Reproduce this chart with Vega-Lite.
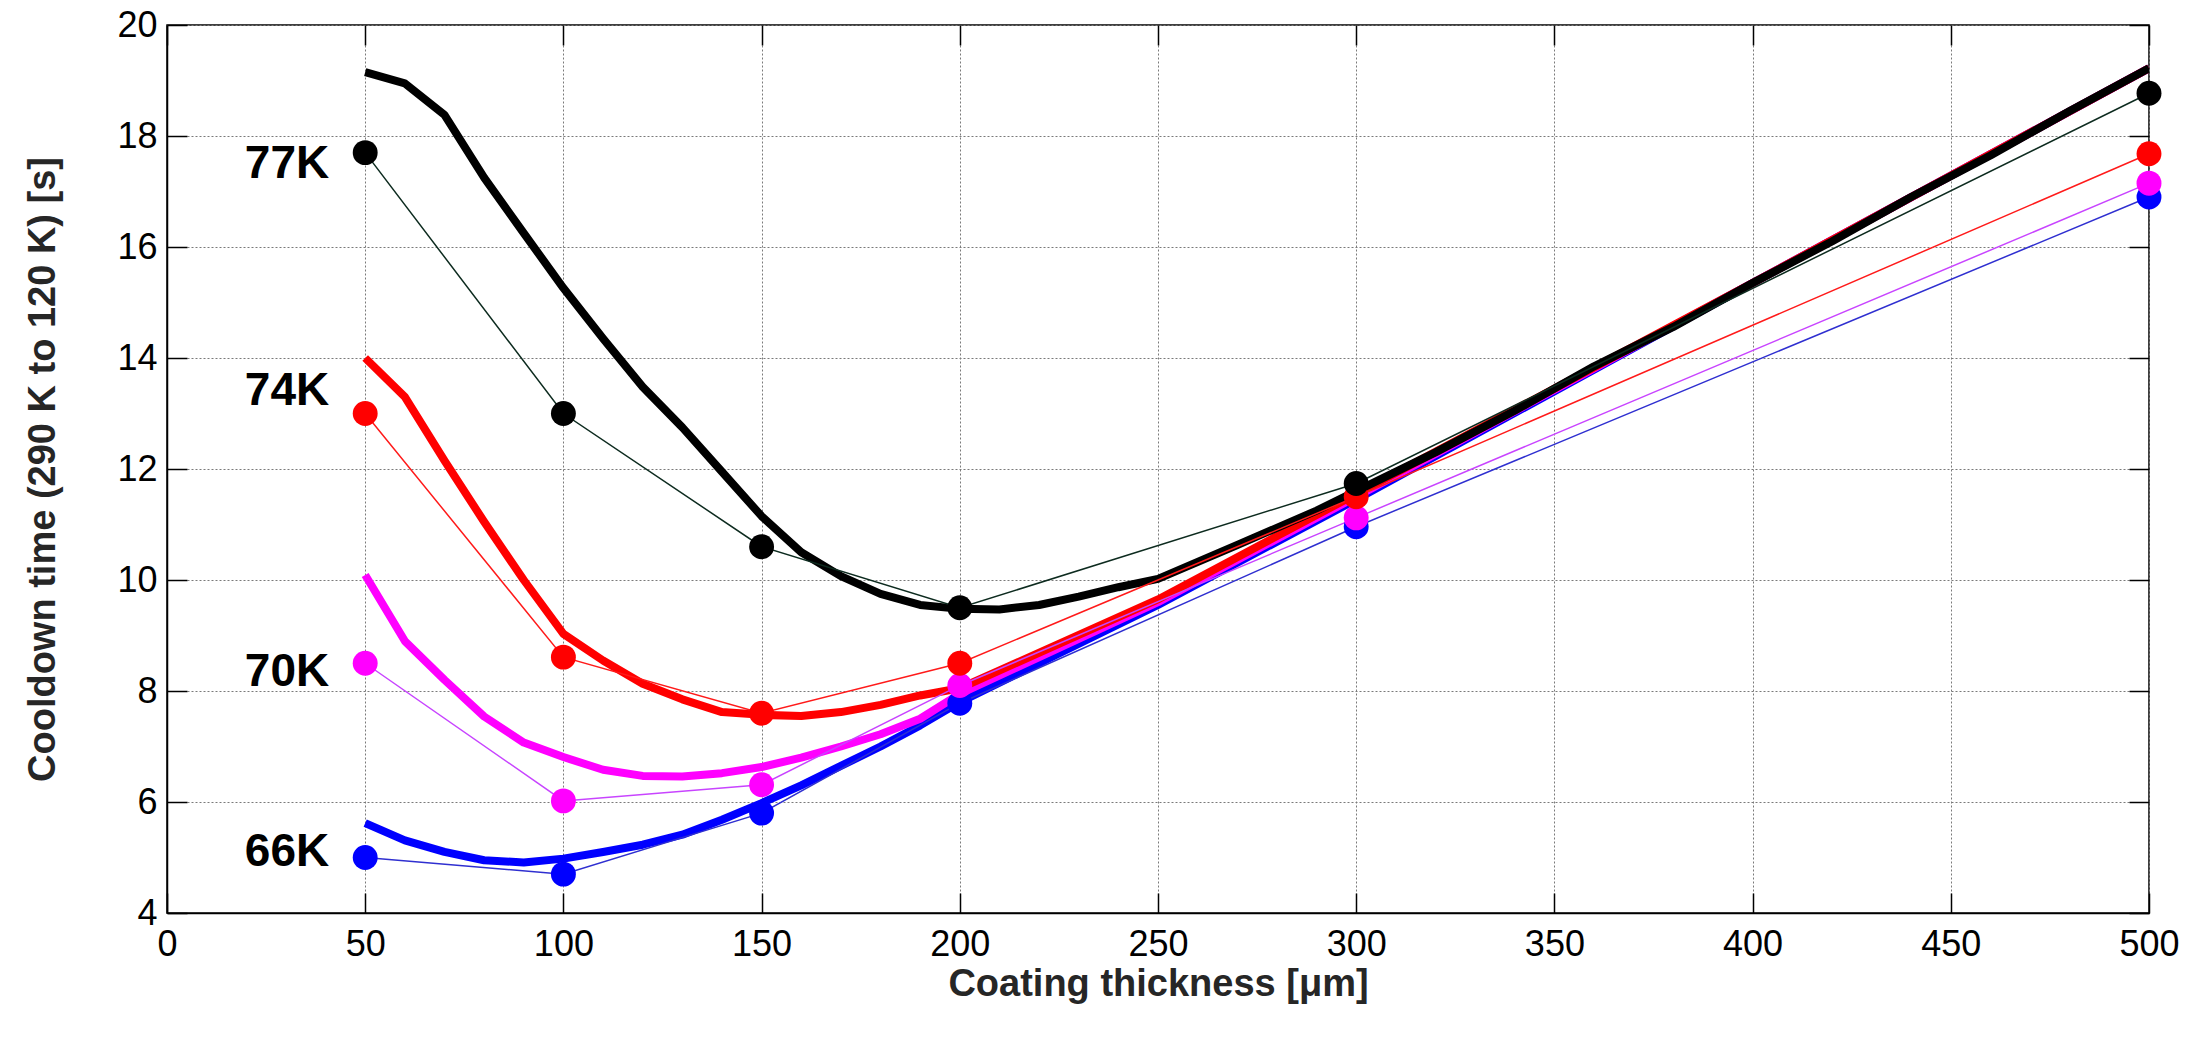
{
  "$schema": "https://vega.github.io/schema/vega-lite/v6.json",
  "width": 1982,
  "height": 888,
  "autosize": {"type": "none"},
  "padding": {"left": 167, "top": 25, "right": 62, "bottom": 125},
  "background": "white",
  "config": {
    "view": {"stroke": "black", "strokeWidth": 1.5},
    "font": "Liberation Sans"
  },
  "datasets": {
    "thick": [
      {"series": "66K", "x": 50, "y": 5.62}, {"series": "66K", "x": 60, "y": 5.31}, {"series": "66K", "x": 70, "y": 5.1}, {"series": "66K", "x": 80, "y": 4.95}, {"series": "66K", "x": 90, "y": 4.91}, {"series": "66K", "x": 100, "y": 4.98}, {"series": "66K", "x": 110, "y": 5.1}, {"series": "66K", "x": 120, "y": 5.23}, {"series": "66K", "x": 130, "y": 5.41}, {"series": "66K", "x": 140, "y": 5.68}, {"series": "66K", "x": 150, "y": 5.98}, {"series": "66K", "x": 160, "y": 6.3}, {"series": "66K", "x": 170, "y": 6.65}, {"series": "66K", "x": 180, "y": 7.0}, {"series": "66K", "x": 190, "y": 7.38}, {"series": "66K", "x": 200, "y": 7.8}, {"series": "66K", "x": 250, "y": 9.55}, {"series": "66K", "x": 300, "y": 11.45}, {"series": "66K", "x": 400, "y": 15.35}, {"series": "66K", "x": 500, "y": 19.22},
      {"series": "70K", "x": 50, "y": 10.09}, {"series": "70K", "x": 60, "y": 8.9}, {"series": "70K", "x": 70, "y": 8.2}, {"series": "70K", "x": 80, "y": 7.54}, {"series": "70K", "x": 90, "y": 7.07}, {"series": "70K", "x": 100, "y": 6.81}, {"series": "70K", "x": 110, "y": 6.58}, {"series": "70K", "x": 120, "y": 6.47}, {"series": "70K", "x": 130, "y": 6.46}, {"series": "70K", "x": 140, "y": 6.52}, {"series": "70K", "x": 150, "y": 6.63}, {"series": "70K", "x": 160, "y": 6.8}, {"series": "70K", "x": 170, "y": 7.0}, {"series": "70K", "x": 180, "y": 7.22}, {"series": "70K", "x": 190, "y": 7.5}, {"series": "70K", "x": 200, "y": 7.95}, {"series": "70K", "x": 250, "y": 9.6}, {"series": "70K", "x": 300, "y": 11.5}, {"series": "70K", "x": 400, "y": 15.35}, {"series": "70K", "x": 500, "y": 19.22},
      {"series": "74K", "x": 50, "y": 14.0}, {"series": "74K", "x": 60, "y": 13.3}, {"series": "74K", "x": 70, "y": 12.15}, {"series": "74K", "x": 80, "y": 11.05}, {"series": "74K", "x": 90, "y": 10.0}, {"series": "74K", "x": 100, "y": 9.03}, {"series": "74K", "x": 110, "y": 8.55}, {"series": "74K", "x": 120, "y": 8.13}, {"series": "74K", "x": 130, "y": 7.85}, {"series": "74K", "x": 140, "y": 7.62}, {"series": "74K", "x": 150, "y": 7.57}, {"series": "74K", "x": 160, "y": 7.55}, {"series": "74K", "x": 170, "y": 7.62}, {"series": "74K", "x": 180, "y": 7.75}, {"series": "74K", "x": 190, "y": 7.92}, {"series": "74K", "x": 200, "y": 8.05}, {"series": "74K", "x": 250, "y": 9.65}, {"series": "74K", "x": 300, "y": 11.55}, {"series": "74K", "x": 400, "y": 15.35}, {"series": "74K", "x": 500, "y": 19.22},
      {"series": "77K", "x": 50, "y": 19.15}, {"series": "77K", "x": 60, "y": 18.95}, {"series": "77K", "x": 70, "y": 18.38}, {"series": "77K", "x": 80, "y": 17.25}, {"series": "77K", "x": 90, "y": 16.25}, {"series": "77K", "x": 100, "y": 15.26}, {"series": "77K", "x": 110, "y": 14.35}, {"series": "77K", "x": 120, "y": 13.48}, {"series": "77K", "x": 130, "y": 12.75}, {"series": "77K", "x": 140, "y": 11.95}, {"series": "77K", "x": 150, "y": 11.15}, {"series": "77K", "x": 160, "y": 10.5}, {"series": "77K", "x": 170, "y": 10.07}, {"series": "77K", "x": 180, "y": 9.75}, {"series": "77K", "x": 190, "y": 9.55}, {"series": "77K", "x": 200, "y": 9.48}, {"series": "77K", "x": 210, "y": 9.47}, {"series": "77K", "x": 220, "y": 9.55}, {"series": "77K", "x": 230, "y": 9.7}, {"series": "77K", "x": 240, "y": 9.87}, {"series": "77K", "x": 250, "y": 10.02}, {"series": "77K", "x": 270, "y": 10.63}, {"series": "77K", "x": 290, "y": 11.25}, {"series": "77K", "x": 300, "y": 11.6}, {"series": "77K", "x": 320, "y": 12.3}, {"series": "77K", "x": 340, "y": 13.05}, {"series": "77K", "x": 360, "y": 13.85}, {"series": "77K", "x": 380, "y": 14.56}, {"series": "77K", "x": 400, "y": 15.35}, {"series": "77K", "x": 420, "y": 16.1}, {"series": "77K", "x": 440, "y": 16.9}, {"series": "77K", "x": 460, "y": 17.65}, {"series": "77K", "x": 480, "y": 18.45}, {"series": "77K", "x": 500, "y": 19.22}
    ],
    "thin": [
      {"series": "66K", "x": 50, "y": 5.0}, {"series": "66K", "x": 100, "y": 4.7}, {"series": "66K", "x": 150, "y": 5.8}, {"series": "66K", "x": 200, "y": 7.78}, {"series": "66K", "x": 300, "y": 10.96}, {"series": "66K", "x": 500, "y": 16.9},
      {"series": "70K", "x": 50, "y": 8.5}, {"series": "70K", "x": 100, "y": 6.02}, {"series": "70K", "x": 150, "y": 6.31}, {"series": "70K", "x": 200, "y": 8.1}, {"series": "70K", "x": 300, "y": 11.12}, {"series": "70K", "x": 500, "y": 17.15},
      {"series": "74K", "x": 50, "y": 13.0}, {"series": "74K", "x": 100, "y": 8.61}, {"series": "74K", "x": 150, "y": 7.6}, {"series": "74K", "x": 200, "y": 8.5}, {"series": "74K", "x": 300, "y": 11.5}, {"series": "74K", "x": 500, "y": 17.68},
      {"series": "77K", "x": 50, "y": 17.7}, {"series": "77K", "x": 100, "y": 13.0}, {"series": "77K", "x": 150, "y": 10.6}, {"series": "77K", "x": 200, "y": 9.5}, {"series": "77K", "x": 300, "y": 11.74}, {"series": "77K", "x": 500, "y": 18.77}
    ],
    "labels": [
      {"label": "77K", "x": 50, "y": 17.5},
      {"label": "74K", "x": 50, "y": 13.4},
      {"label": "70K", "x": 50, "y": 8.35},
      {"label": "66K", "x": 50, "y": 5.1}
    ]
  },
  "layer": [
    {
      "data": {"name": "thick"},
      "mark": {"type": "line", "strokeWidth": 8, "strokeJoin": "round", "clip": true},
      "encoding": {
        "x": {
          "field": "x", "type": "quantitative",
          "scale": {"domain": [0, 500], "nice": false},
          "axis": {
            "values": [0, 50, 100, 150, 200, 250, 300, 350, 400, 450, 500],
            "title": "Coating thickness [μm]",
            "titleFontSize": 38, "titleFontWeight": "bold", "titleColor": "#262626", "titlePadding": 3,
            "labelFontSize": 36, "labelColor": "black", "labelPadding": 34, "labelFlush": false,
            "tickSize": -20, "tickColor": "black", "tickWidth": 1.5,
            "domainColor": "black", "domainWidth": 1.5,
            "grid": true, "gridColor": "#7a7a7a", "gridDash": [2, 2], "gridWidth": 1
          }
        },
        "y": {
          "field": "y", "type": "quantitative",
          "scale": {"domain": [4, 20], "nice": false},
          "axis": {
            "values": [4, 6, 8, 10, 12, 14, 16, 18, 20],
            "title": "Cooldown time (290 K to 120 K) [s]",
            "titleFontSize": 38, "titleFontWeight": "bold", "titleColor": "#262626", "titlePadding": 54,
            "labelFontSize": 36, "labelColor": "black", "labelPadding": 30, "labelFlush": false,
            "tickSize": -20, "tickColor": "black", "tickWidth": 1.5,
            "domainColor": "black", "domainWidth": 1.5,
            "grid": true, "gridColor": "#7a7a7a", "gridDash": [2, 2], "gridWidth": 1
          }
        },
        "color": {
          "field": "series", "type": "nominal",
          "scale": {"domain": ["66K", "70K", "74K", "77K"], "range": ["#0000ff", "#ff00ff", "#ff0000", "#000000"]},
          "legend": null
        }
      }
    },
    {
      "data": {"name": "thin"},
      "mark": {"type": "line", "strokeWidth": 1.5},
      "encoding": {
        "x": {
          "field": "x", "type": "quantitative",
          "axis": {"orient": "top", "values": [0, 50, 100, 150, 200, 250, 300, 350, 400, 450, 500], "labels": false, "title": null, "grid": false, "domain": false, "tickSize": -20, "tickColor": "black", "tickWidth": 1.5}
        },
        "y": {
          "field": "y", "type": "quantitative",
          "axis": {"orient": "right", "values": [4, 6, 8, 10, 12, 14, 16, 18, 20], "labels": false, "title": null, "grid": false, "domain": false, "tickSize": -20, "tickColor": "black", "tickWidth": 1.5}
        },
        "color": {
          "field": "series", "type": "nominal",
          "scale": {"domain": ["66K", "70K", "74K", "77K"], "range": ["#2f2fd0", "#c844ff", "#ff1a1a", "#0d2b1f"]},
          "legend": null
        }
      }
    },
    {
      "data": {"name": "thin"},
      "mark": {"type": "circle", "size": 620, "opacity": 1},
      "encoding": {
        "x": {"field": "x", "type": "quantitative", "axis": null},
        "y": {"field": "y", "type": "quantitative", "axis": null},
        "color": {
          "field": "series", "type": "nominal",
          "scale": {"domain": ["66K", "70K", "74K", "77K"], "range": ["#0000ff", "#ff00ff", "#ff0000", "#000000"]},
          "legend": null
        }
      }
    },
    {
      "data": {"name": "labels"},
      "mark": {"type": "text", "fontSize": 46, "fontWeight": "bold", "align": "right", "baseline": "middle", "dx": -36, "color": "black"},
      "encoding": {
        "x": {"field": "x", "type": "quantitative", "axis": null},
        "y": {"field": "y", "type": "quantitative", "axis": null},
        "text": {"field": "label"}
      }
    }
  ],
  "resolve": {"scale": {"color": "independent"}, "axis": {"x": "independent", "y": "independent"}}
}
